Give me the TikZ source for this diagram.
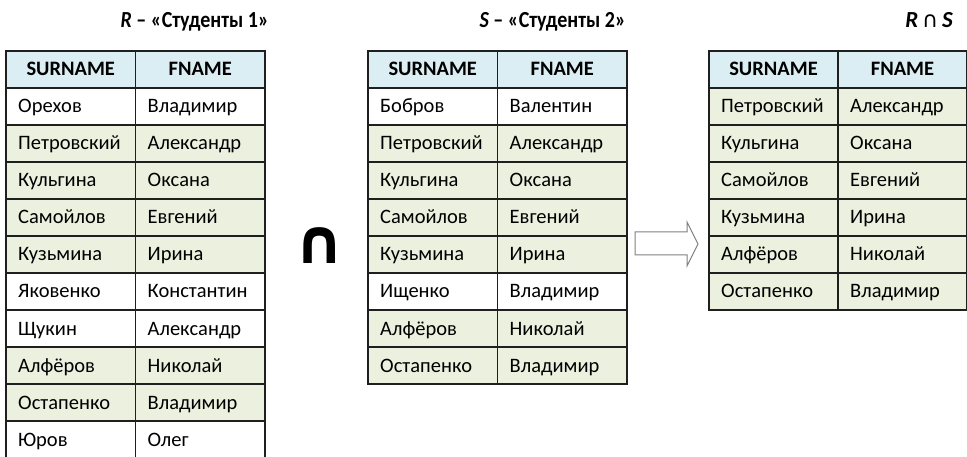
\documentclass[tikz,border=0pt]{standalone}
\usepackage{fontspec}
\setmainfont{Carlito}
\newfontfamily\symfont{DejaVu Sans}
\definecolor{headblue}{HTML}{DAEEF3}
\definecolor{rowgreen}{HTML}{EBF1DE}
\definecolor{gridline}{HTML}{1F1F1F}
\definecolor{arrowgray}{HTML}{7F7F7F}

\begin{document}
\begin{tikzpicture}[x=1pt,y=-1pt,
  rule/.style={draw=gridline,line width=1.7pt},
  cell/.style={anchor=base west,xshift=12pt,yshift=-6.5pt,inner sep=0pt,font=\fontsize{20.5}{24}\selectfont},
  headcell/.style={anchor=base,yshift=-6.5pt,inner sep=0pt,font=\bfseries\fontsize{20.5}{24}\selectfont},
  title/.style={anchor=base east,inner sep=0pt,font=\bfseries\fontsize{23}{26}\selectfont}]
\useasboundingbox (0,0) rectangle (967,457);

% titles
\node[title] (tR) at (269,28) {\scalebox{.87}[1]{\itshape R\upshape\ – «Студенты 1»}};
\node[title] (tS) at (626,28) {\scalebox{.87}[1]{\itshape S\upshape\ – «Студенты 2»}};
\node[title] (tRS) at (953,28) {\itshape R\,{\symfont\mdseries\upshape\fontsize{22}{24}\selectfont ∩}\,S};

% table R
\begin{scope}[shift={(6,51)},x=129.5pt,y=-37pt]
\fill[headblue] (0,0) rectangle (2,1);
\fill[rowgreen] (0,2) rectangle (2,6);
\fill[rowgreen] (0,8) rectangle (2,10);
\node[headcell] (rh1) at (.5,.5) {SURNAME};
\node[headcell] (rh2) at (1.5,.5) {FNAME};
\foreach \s/\f [count=\k] in {Орехов/Владимир,Петровский/Александр,Кульгина/Оксана,
  Самойлов/Евгений,Кузьмина/Ирина,Яковенко/Константин,Щукин/Александр,
  Алфёров/Николай,Остапенко/Владимир,Юров/Олег}{
  \node[cell] (rs\k) at (0,\k+.5) {\s};
  \node[cell] (rf\k) at (1,\k+.5) {\f};
}
\draw[rule] (0,0) rectangle (2,11);
\draw[rule] (1,0) -- (1,11);
\foreach \k in {1,...,10} \draw[rule] (0,\k) -- (2,\k);
\end{scope}

% intersection sign
\node[inner sep=0pt,font=\symfont\bfseries\fontsize{62}{64}\selectfont] (cap) at (320,246) {∩};

% table S
\begin{scope}[shift={(368,51)},x=129.5pt,y=-37pt]
\fill[headblue] (0,0) rectangle (2,1);
\fill[rowgreen] (0,2) rectangle (2,6);
\fill[rowgreen] (0,7) rectangle (2,9);
\node[headcell] (sh1) at (.5,.5) {SURNAME};
\node[headcell] (sh2) at (1.5,.5) {FNAME};
\foreach \s/\f [count=\k] in {Бобров/Валентин,Петровский/Александр,Кульгина/Оксана,
  Самойлов/Евгений,Кузьмина/Ирина,Ищенко/Владимир,Алфёров/Николай,Остапенко/Владимир}{
  \node[cell] (ss\k) at (0,\k+.5) {\s};
  \node[cell] (sf\k) at (1,\k+.5) {\f};
}
\draw[rule] (0,0) rectangle (2,9);
\draw[rule] (1,0) -- (1,9);
\foreach \k in {1,...,8} \draw[rule] (0,\k) -- (2,\k);
\end{scope}

% result arrow
\draw[arrowgray,line width=1pt,line join=miter] (635,232) -- (687,232) -- (687,222) -- (698,244)
  -- (687,266) -- (687,255) -- (635,255) -- cycle;

% table R cap S
\begin{scope}[shift={(709,51)},x=129pt,y=-37pt]
\fill[headblue] (0,0) rectangle (2,1);
\fill[rowgreen] (0,1) rectangle (2,7);
\node[headcell] (qh1) at (.5,.5) {SURNAME};
\node[headcell] (qh2) at (1.5,.5) {FNAME};
\foreach \s/\f [count=\k] in {Петровский/Александр,Кульгина/Оксана,Самойлов/Евгений,
  Кузьмина/Ирина,Алфёров/Николай,Остапенко/Владимир}{
  \node[cell] (qs\k) at (0,\k+.5) {\s};
  \node[cell] (qf\k) at (1,\k+.5) {\f};
}
\draw[rule] (0,0) rectangle (2,7);
\draw[rule] (1,0) -- (1,7);
\foreach \k in {1,...,6} \draw[rule] (0,\k) -- (2,\k);
\end{scope}
\end{tikzpicture}
\end{document}
